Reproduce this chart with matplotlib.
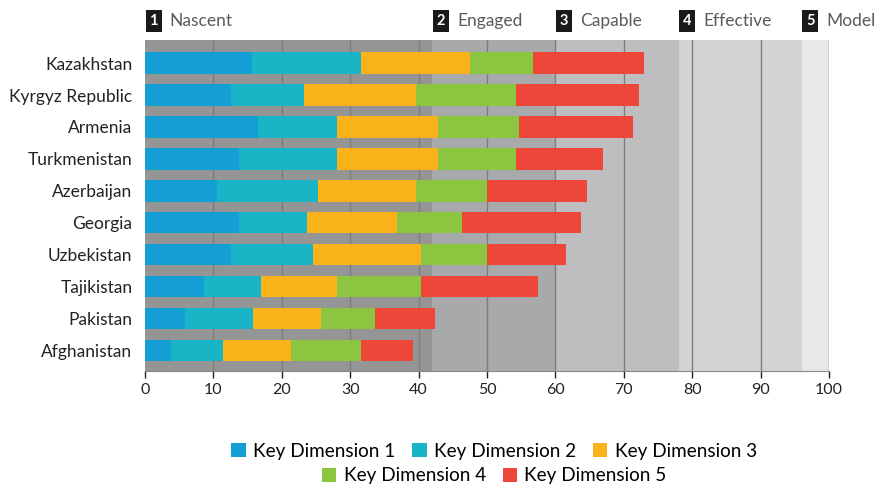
import numpy as np
import matplotlib.pyplot as plt

plt.rcParams['font.family'] = ['Lato', 'DejaVu Sans']

# ------------------------------------------------------------------
#  Data (segment lengths)
# ------------------------------------------------------------------
countries = ['Kazakhstan', 'Kyrgyz Republic', 'Armenia', 'Turkmenistan',
             'Azerbaijan', 'Georgia', 'Uzbekistan', 'Tajikistan',
             'Pakistan', 'Afghanistan']

dim1 = [15.7, 12.6, 16.5, 13.7, 10.5, 13.7, 12.6, 8.6, 5.8, 3.8]
dim2 = [15.9, 10.7, 11.6, 14.4, 14.8, 10.0, 11.9, 8.4, 10.0, 7.6]
dim3 = [15.9, 16.3, 14.7, 14.7, 14.3, 13.1, 15.9, 11.1, 9.9, 9.9]
dim4 = [9.2, 14.7, 11.9, 11.5, 10.4, 9.5, 9.6, 12.3, 7.9, 10.3]
dim5 = [16.3, 17.9, 16.7, 12.7, 14.6, 17.5, 11.5, 17.1, 8.8, 7.6]

series_names = ['Key Dimension 1', 'Key Dimension 2', 'Key Dimension 3',
                'Key Dimension 4', 'Key Dimension 5']
series_colors = ['#139fd4', '#19b5c7', '#f9b21a', '#8cc540', '#ef463a']

# maturity stages (start of each band) and band colours
stage_names = ['Nascent', 'Engaged', 'Capable', 'Effective', 'Model']
stage_starts = [0, 42, 60, 78, 96]
stage_ends = [42, 60, 78, 96, 100]
stage_colors = ['#959595', '#a8a9aa', '#bebdbf', '#d3d3d3', '#e8e8e6']

# ------------------------------------------------------------------
#  Plot
# ------------------------------------------------------------------
fig = plt.figure(figsize=(8.81, 4.87), dpi=100)
ax = fig.add_axes([145 / 881, 1 - 371 / 487, 684 / 881, 331 / 487])

for s0, s1, c in zip(stage_starts, stage_ends, stage_colors):
    ax.axvspan(s0, s1, color=c, lw=0, zorder=0)

for xv in range(10, 101, 10):
    ax.axvline(xv, color='#7d7d7d', lw=1.0, zorder=1)

y = np.arange(len(countries))
left = np.zeros(len(countries))
for vals, name, col in zip([dim1, dim2, dim3, dim4, dim5], series_names, series_colors):
    ax.barh(y, vals, left=left, height=0.66, color=col, label=name, zorder=2)
    left += np.array(vals)

ax.set_xlim(0, 100)
ax.set_ylim(9.63, -0.72)
ax.set_yticks(y)
ax.set_yticklabels(countries, fontsize=12.5, color='#222222')
ax.set_xticks(range(0, 101, 10))
ax.tick_params(axis='x', labelsize=11.5, colors='#222222', length=5, width=1, pad=4)
ax.tick_params(axis='y', length=0, pad=9)
for sp in ['top', 'right', 'left']:
    ax.spines[sp].set_visible(False)
ax.spines['bottom'].set_color('#888888')

# stage headers with numbered black boxes
for i, (name, s0) in enumerate(zip(stage_names, stage_starts)):
    xf = (145 + s0 * 6.84) / 881
    fig.text(xf + 0.005, 1 - 21 / 487, str(i + 1), color='white', fontsize=10.5,
             fontweight='bold', ha='left', va='center',
             bbox=dict(boxstyle='square,pad=0.25', fc='#1a1a1a', ec='none'))
    fig.text(xf + 0.028, 1 - 21 / 487, name, color='#5a5a5a', fontsize=12.5,
             ha='left', va='center')

handles, labels = ax.get_legend_handles_labels()
fig.legend(handles[:3], labels[:3], loc='center', bbox_to_anchor=(0.561, 1 - 451 / 487),
           ncol=3, frameon=False, fontsize=13.6, handlelength=0.75, handleheight=0.75,
           handletextpad=0.4, columnspacing=0.9, borderpad=0)
fig.legend(handles[3:], labels[3:], loc='center', bbox_to_anchor=(0.561, 1 - 476 / 487),
           ncol=2, frameon=False, fontsize=13.6, handlelength=0.75, handleheight=0.75,
           handletextpad=0.4, columnspacing=0.9, borderpad=0)

plt.savefig('out.png', dpi=100)
